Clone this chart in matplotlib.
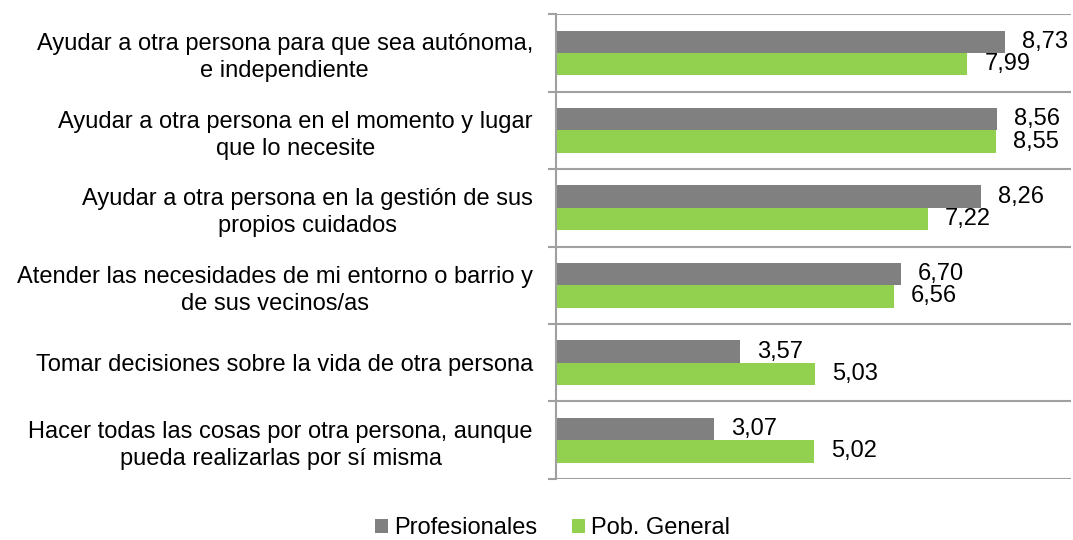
import numpy as np
import matplotlib.pyplot as plt

plt.rcParams['font.family'] = ['Liberation Sans', 'DejaVu Sans']

categories = [
    'Ayudar a otra persona para que sea autónoma,\ne independiente',
    'Ayudar a otra persona en el momento y lugar\nque lo necesite',
    'Ayudar a otra persona en la gestión de sus\npropios cuidados',
    'Atender las necesidades de mi entorno o barrio y\nde sus vecinos/as',
    'Tomar decisiones sobre la vida de otra persona',
    'Hacer todas las cosas por otra persona, aunque\npueda realizarlas por sí misma',
]
profesionales = [8.73, 8.56, 8.26, 6.70, 3.57, 3.07]
poblacion = [7.99, 8.55, 7.22, 6.56, 5.03, 5.02]
series_names = ['Profesionales', 'Pob. General']
colors = ['#808080', '#92d050']

fig = plt.figure(figsize=(10.73, 5.40), dpi=100)
ax = fig.add_axes([0.518, 0.113, 0.48, 0.861])

y = np.arange(len(categories))
h = 0.285
off = 0.145
fs = 17

b1 = ax.barh(y - off, profesionales, height=h, color=colors[0], label=series_names[0])
b2 = ax.barh(y + off, poblacion, height=h, color=colors[1], label=series_names[1])

for bars, vals in [(b1, profesionales), (b2, poblacion)]:
    for bar, v in zip(bars, vals):
        ax.text(v + 0.33, bar.get_y() + bar.get_height() / 2, ('%.2f' % v).replace('.', ','),
                va='center', ha='left', fontsize=fs)

ax.set_xlim(0, 10)
ax.set_ylim(len(categories) - 0.5, -0.5)
ax.set_xticks([])
ax.set_yticks(y)
ax.set_yticklabels(categories, fontsize=fs, multialignment='center', linespacing=1.3)
ax.tick_params(axis='y', which='major', length=0, pad=16.5)
ax.set_yticks(np.arange(-0.5, len(categories)), minor=True)
ax.tick_params(axis='y', which='minor', length=6, width=1.5, color='#a0a0a0')
ax.grid(which='minor', axis='y', color='#a0a0a0', linewidth=1.5)
ax.set_axisbelow(True)

for s in ['top', 'right', 'bottom']:
    ax.spines[s].set_visible(False)
ax.spines['left'].set_color('#a0a0a0')
ax.spines['left'].set_linewidth(1.5)

fig.legend(loc='center', bbox_to_anchor=(0.515, 0.022), ncol=2, frameon=False,
           fontsize=fs, handlelength=0.55, handleheight=0.55, handletextpad=0.25,
           columnspacing=1.5)

fig.savefig('out.png', dpi=100)
